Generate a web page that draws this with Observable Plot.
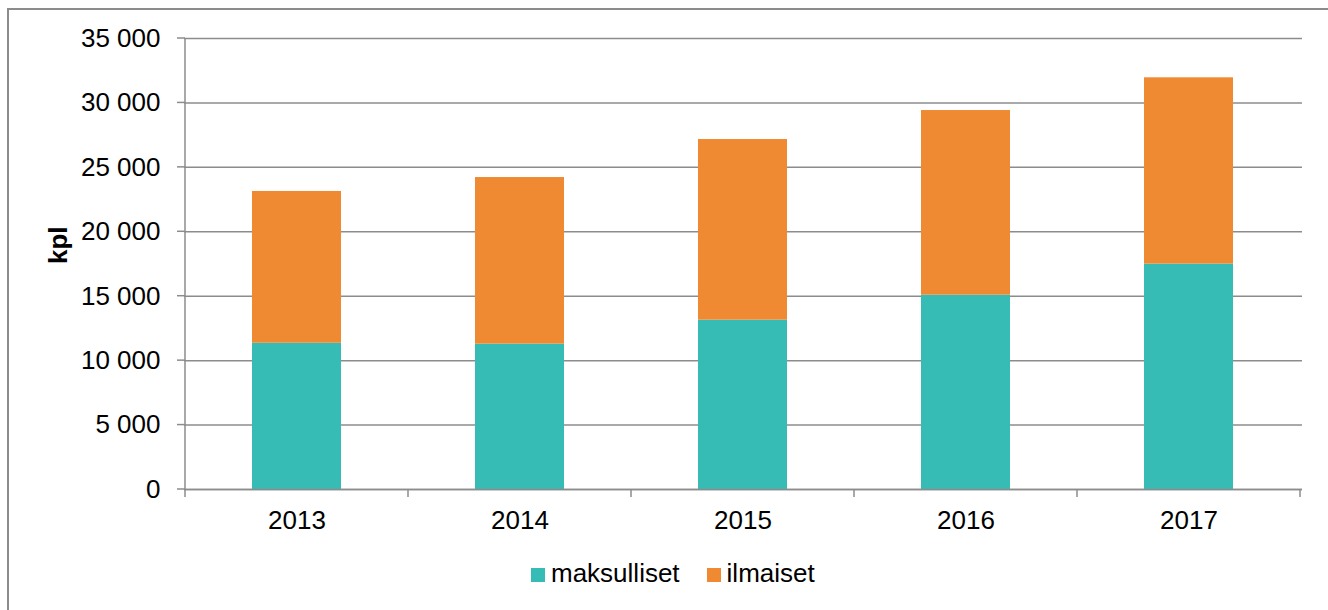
<!DOCTYPE html>
<html>
<head>
<meta charset="utf-8">
<script src="https://cdn.jsdelivr.net/npm/d3@7"></script>
<script src="https://cdn.jsdelivr.net/npm/@observablehq/plot@0.6"></script>
<style>
  html, body { margin: 0; padding: 0; background: #fff; width: 1328px; height: 610px; overflow: hidden; }
  body { position: relative; font-family: "Liberation Sans", Arial, sans-serif; }
  #frame { position: absolute; left: 7px; top: 8px; width: 1340px; height: 620px;
           border-top: 2px solid #8c8c8c; border-left: 2px solid #8c8c8c; }
  #chart { position: absolute; left: 0; top: 0; }
  #legend { position: absolute; left: 531px; top: 558px; display: flex; align-items: center;
            font-size: 26px; line-height: 30px; color: #000; }
  #legend .item { display: flex; align-items: center; margin-right: 27px; }
  #legend .sw { width: 14px; height: 14px; margin-right: 6px; position: relative; top: 2px; }
</style>
</head>
<body>
<div id="frame"></div>
<div id="chart"></div>
<div id="legend"></div>
<script>
// ---- data ----
const years = ["2013", "2014", "2015", "2016", "2017"];
const seriesNames = ["maksulliset", "ilmaiset"];
const maksulliset = [11350, 11280, 13140, 15080, 17490];
const ilmaiset = [11780, 12930, 14020, 14330, 14460];
const seriesColors = ["#36bbb5", "#f08a32"];
const yTicks = [0, 5000, 10000, 15000, 20000, 25000, 30000, 35000];
const yLabel = "kpl";

const GRID = "#8c8c8c";
const fmt = d => d3.format(",")(d).replace(/,/g, " ");

const rows = [];
years.forEach((yr, i) => {
  rows.push({year: yr, series: seriesNames[0], value: maksulliset[i]});
  rows.push({year: yr, series: seriesNames[1], value: ilmaiset[i]});
});

function axisLines(index, scales, values, dims) {
  const x = scales.x, y = scales.y;
  const {width, marginLeft, marginRight} = dims;
  const bw = x.bandwidth();
  const step = x.step ? x.step() : (width - marginLeft - marginRight) / years.length;
  const bounds = years.map(yr => x(yr) - (step - bw) / 2);
  bounds.push(x(years[years.length - 1]) + bw + (step - bw) / 2);
  const y0 = y(0);
  const g = d3.create("svg:g").attr("stroke", GRID).attr("stroke-width", 1.5).attr("fill", "none");
  for (const b of bounds) {
    g.append("line").attr("x1", b).attr("x2", b).attr("y1", y0).attr("y2", y0 + 8);
  }
  g.append("line").attr("x1", bounds[0]).attr("x2", bounds[0])
    .attr("y1", y(yTicks[yTicks.length - 1])).attr("y2", y0);
  for (const t of yTicks) {
    g.append("line").attr("x1", bounds[0] - 8).attr("x2", bounds[0]).attr("y1", y(t)).attr("y2", y(t));
  }
  return g.node();
}

const plot = Plot.plot({
  width: 1328,
  height: 545,
  marginLeft: 184,
  marginRight: 26,
  marginTop: 38,
  marginBottom: 56,
  style: {fontFamily: "'Liberation Sans', Arial, sans-serif", fontSize: "26px", color: "#000", background: "transparent"},
  x: {domain: years, paddingInner: 0.6, paddingOuter: 0.3, tickSize: 0, tickPadding: 21, label: null},
  y: {domain: [0, 35000], ticks: yTicks, tickFormat: fmt, tickSize: 0, tickPadding: 24, label: null},
  color: {domain: seriesNames, range: seriesColors},
  marks: [
    Plot.ruleY(yTicks, {stroke: GRID, strokeWidth: 1.5}),
    Plot.barY(rows, {x: "year", y: "value", fill: "series"}),
    Plot.ruleY([0], {stroke: GRID, strokeWidth: 1.5}),
    axisLines,
    Plot.text([yLabel], {frameAnchor: "left", rotate: -90, dx: -126, text: d => d,
                         fontWeight: "bold", fontSize: 26, fill: "#000"})
  ]
});
document.getElementById("chart").appendChild(plot);

const legend = document.getElementById("legend");
seriesNames.forEach((name, i) => {
  const item = document.createElement("div");
  item.className = "item";
  const sw = document.createElement("span");
  sw.className = "sw";
  sw.style.background = seriesColors[i];
  const tx = document.createElement("span");
  tx.textContent = name;
  item.appendChild(sw);
  item.appendChild(tx);
  legend.appendChild(item);
});
</script>
</body>
</html>
